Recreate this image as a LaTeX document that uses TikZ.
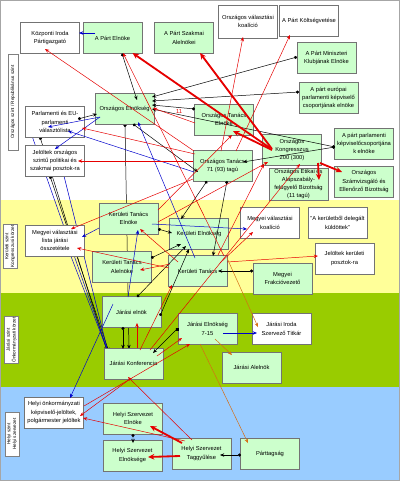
\documentclass[tikz,border=0pt]{standalone}
\usepackage{fontspec}
\setmainfont{Liberation Sans}
\usetikzlibrary{arrows.meta, calc, shadows}
\definecolor{dobozzold}{RGB}{204,255,204}
\definecolor{savsarga}{RGB}{255,255,153}
\definecolor{savzold}{RGB}{153,204,0}
\definecolor{savkek}{RGB}{153,204,255}
\definecolor{nyilpiros}{RGB}{230,0,0}
\definecolor{nyilkek}{RGB}{0,0,204}
\definecolor{nyilbarna}{RGB}{214,110,20}
\pgfdeclarelayer{savok}
\pgfdeclarelayer{hatul}
\pgfsetlayers{savok,hatul,main}

\begin{document}
\begin{tikzpicture}[x=0.025cm, y=-0.025cm,
    doboz/.style={rectangle, draw=black!55, line width=0.3pt, fill=dobozzold, align=center,
      minimum width=1.475cm, minimum height=0.775cm, inner sep=0.5pt,
      font=\fontsize{4.1}{5.9}\selectfont,
      drop shadow={shadow xshift=0.6pt, shadow yshift=-0.6pt, fill=black!60, opacity=0.7}},
    feher/.style={doboz, fill=white},
    szint/.style={rectangle, draw=black!50, fill=white, rotate=90, align=center, inner sep=0.6pt,
      minimum height=0.34cm, font=\fontsize{3.3}{4}\selectfont},
    tag/.style={draw=black, line width=0.35pt, {Circle[length=2.2pt]}-{Stealth[length=3pt, width=2.4pt]}},
    kek/.style={draw=nyilkek, line width=0.35pt, -{Stealth[length=3pt, width=2.4pt]}},
    piros/.style={draw=nyilpiros, line width=0.35pt, -{Stealth[length=3pt, width=2.4pt]}},
    barna/.style={draw=nyilbarna, line width=0.35pt, -{Stealth[length=3pt, width=2.4pt]}},
    valaszt/.style={draw=nyilpiros, line width=1.3pt, -{Stealth[length=4.5pt, width=4pt]}}
  ]
  \useasboundingbox (0,0) rectangle (400,481);

  % szintek (savok)
  \begin{pgfonlayer}{savok}
    \fill[white] (0,0) rectangle (400,200);
    \fill[savsarga] (0,200) rectangle (400,293);
    \fill[savzold] (0,293) rectangle (400,387);
    \fill[savkek] (0,387) rectangle (400,481);
    \draw[black!35, line width=0.5pt] (0.5,0.5) rectangle (399.5,480.5);
  \end{pgfonlayer}

  \node[szint, minimum width=2.4cm, minimum height=0.25cm] (szorsz) at (13,102) {Országos szint / Republikánus szint};
  \node[szint, minimum width=1.05cm] (szker) at (10,246.5) {Kerületi szint\\Kongresszusi körzet};
  \node[szint, minimum width=1.1cm] (szjar) at (11.5,340) {Járási szint\\Önkormányzati körzet};
  \node[szint, minimum width=1.1cm] (szhelyi) at (12,434) {Helyi szint\\Helyi szervezet};

  % orszagos szint
  \node[feher] (kozpiroda) at (50,38) {Központi Iroda\\Pártigazgató};
  \node[doboz] (elnok) at (112.5,38) {A Párt Elnöke};
  \node[doboz] (alelnokok) at (184,38) {A Párt Szakmai\\Alelnökei};
  \node[feher, minimum height=0.825cm] (orszkoal) at (248,21.5) {Országos választási\\koalíció};
  \node[feher] (koltseg) at (309,20.5) {A Párt Költségvetése};
  \node[doboz] (minklub) at (326.5,58) {A Párt Miniszteri\\Klubjának Elnöke};
  \node[doboz] (epcsop) at (328.5,98) {A párt európai\\parlamenti képviselő\\csoportjának elnöke};
  \node[doboz] (orszelnokseg) at (124.5,108.5) {Országos Elnökség};
  \node[doboz] (tanacselnok) at (224,119.5) {Országos Tanács\\Elnöke};
  \node[doboz] (orsztanacs) at (222.5,166) {Országos Tanács\\71 (93) tagú};
  \node[doboz] (kongresszus) at (292,150) {Országos\\Kongresszus\\200 (300)};
  \node[doboz] (parlcsop) at (364,143.5) {A párt parlamenti\\képviselőcsoportjána\\k elnöke};
  \node[doboz] (etikai) at (298.5,184) {Országos Etikai és\\Alapszabály-\\felügyelő Bizottság\\(11 tagú)};
  \node[doboz] (szamvizsg) at (364,181.5) {Országos\\Számvizsgáló és\\Ellenőrző Bizottság};
  \node[feher] (parllista) at (55,122) {Parlamenti és EU-\\parlamenti\\választólista};
  \node[feher] (orszjelolt) at (55,161) {Jelöltek országos\\szintű politikai és\\szakmai posztok-ra};

  % keruleti szint
  \node[doboz] (kertelnok) at (128.5,218.5) {Kerületi Tanács\\Elnöke};
  \node[feher] (megyelista) at (55,240.5) {Megyei választási\\lista járási\\összetétele};
  \node[doboz] (kerelnokseg) at (199,233.5) {Kerületi Elnökség};
  \node[doboz] (keralelnok) at (122,267) {Kerületi Tanács\\Alelnöke};
  \node[doboz] (kertanacs) at (197.5,271) {Kerületi Tanács};
  \node[feher] (megyekoal) at (270,223) {Megyei választási\\koalíció};
  \node[feher] (kuldottek) at (337.5,223) {"A kerületből delegált\\küldöttek"};
  \node[feher] (kerjelolt) at (344.5,258.5) {Jelöltek kerületi\\posztok-ra};
  \node[doboz] (frakcio) at (282.5,278.5) {Megyei\\Frakcióvezető};

  % jarasi szint
  \node[doboz] (jarelnok) at (131.5,312) {Járási elnök};
  \node[doboz] (jarelnokseg) at (207.5,329) {Járási Elnökség\\7-15};
  \node[feher] (jariroda) at (281.5,329) {Járási Iroda\\Szervező Titkár};
  \node[doboz] (jarkonf) at (133.5,363.5) {Járási Konferencia};
  \node[doboz] (jaralelnok) at (251.5,367.5) {Járási Alelnök};

  % helyi szint
  \node[feher] (helyijelolt) at (54,412.5) {Helyi önkormányzati\\képviselő-jelöltek,\\polgármester jelöltek};
  \node[doboz] (helyielnok) at (133,418.5) {Helyi Szervezet\\Elnöke};
  \node[doboz] (helyielnokseg) at (132.5,455.5) {Helyi Szervezet\\Elnöksége};
  \node[doboz] (taggyules) at (201.5,453.5) {Helyi Szervezet\\Taggyűlése};
  \node[doboz] (parttagsag) at (270,453.5) {Párttagság};

  % a dobozok mogott futo vonalak
  \begin{pgfonlayer}{hatul}
    \draw[tag] ($(orszelnokseg)+(0.5,15.5)$) -- ($(jarkonf)+(-4.5,-14.5)$);
    \draw[tag] ($(parllista)+(-15,15)$) -- ($(jarkonf)+(-26.5,-12.5)$);
    \draw[tag] ($(orszjelolt)+(-5,15)$) -- ($(jarkonf)+(-24.5,-11.5)$);
    \draw[kek] ($(jarkonf)+(-25.5,-11.5)$) -- ($(parllista)+(-24,11)$);
    \draw[kek] ($(jarkonf)+(-25.5,-11.5)$) -- ($(orszjelolt)+(8,11)$);
    \draw[kek] ($(jarkonf)+(-25.5,-11.5)$) -- ($(megyelista)+(5,-12.5)$);
  \end{pgfonlayer}

  % fekete: tagsag
  \draw[tag] ($(elnok)+(9.5,15.5)$) -- ($(orszelnokseg)+(12.5,-8.5)$);
  \draw[tag] ($(minklub)+(-29.5,-1)$) -- ($(orszelnokseg)+(27.5,-11.5)$);
  \draw[tag] ($(epcsop)+(-29.5,-6)$) -- ($(orszelnokseg)+(27.5,-7.5)$);
  \draw[tag] ($(tanacselnok)+(-29,-10.5)$) -- ($(orszelnokseg)+(27.5,-3.5)$);
  \draw[tag] ($(parlcsop)+(-29,3.5)$) -- ($(orszelnokseg)+(27.5,0.5)$);
  \draw[tag] ($(parlcsop)+(-29,3.5)$) -- ($(orsztanacs)+(20.5,-4)$);
  \draw[tag] ($(orszelnokseg)+(8.5,15.5)$) -- ($(orsztanacs)+(-24.5,6)$);
  \draw[tag] ($(parllista)+(23,-3)$) -- ($(orszelnokseg)+(-27.5,5.5)$);
  \draw[tag] ($(orsztanacs)+(4.5,15)$) -- ($(kertanacs)+(15.5,-15)$);
  \draw[tag] ($(orsztanacs)+(-15.5,15)$) -- ($(kerelnokseg)+(-18,-14.5)$);
  \draw[tag] ($(kertelnok)+(29.5,10.5)$) -- ($(kerelnokseg)+(-27,-0.5)$);
  \draw[tag] ($(keralelnok)+(29,-9)$) -- ($(kerelnokseg)+(-18,10.5)$);
  \draw[tag] ($(jarelnok)+(5.5,-15)$) -- ($(kerelnokseg)+(-13,12.5)$);
  \draw[tag] ($(jarelnok)+(28.5,4)$) -- ($(kerelnokseg)+(-10,15.5)$);
  \draw[tag] ($(frakcio)+(-29.5,-7.5)$) -- ($(kertanacs)+(20.5,0)$);
  \draw[tag] ($(jarelnok)+(-8.5,15)$) -- ($(jarkonf)+(-10.5,-14.5)$);
  \draw[tag] ($(jarelnokseg)+(-29.5,-1)$) -- ($(jarkonf)+(19.5,-10.5)$);
  \draw[tag] ($(helyielnok)+(0,15.5)$) -- ($(helyielnokseg)+(0.5,-12.5)$);
  \draw[tag] ($(parttagsag)+(-29,1.5)$) -- ($(taggyules)+(18.5,1.5)$);

  % kek
  \draw[kek] ($(elnok)+(-17.5,-5)$) -- ($(kozpiroda)+(29,-5)$);
  \draw[kek] ($(orszelnokseg)+(-24.5,8.5)$) -- ($(parllista)+(-7,5)$);
  \draw[kek] ($(orszelnokseg)+(-24.5,8.5)$) -- ($(orszjelolt)+(0,-12)$);
  \draw[kek] ($(orsztanacs)+(-28.5,6)$) -- ($(parllista)+(13,9)$);
  \draw[kek] ($(kertelnok)+(-29.5,9.5)$) -- ($(megyelista)+(27,-3.5)$);
  \draw[kek] ($(kertelnok)+(23.5,5.5)$) -- ($(megyekoal)+(-23,6)$);
  \draw[kek] ($(kertanacs)+(-2.5,-13)$) -- ($(orszelnokseg)+(13.5,13.5)$);
  \draw[kek] ($(jarelnok)+(-3.5,-15)$) -- ($(kertelnok)+(9.5,11.5)$);
  \draw[kek] ($(jarelnok)+(-18.5,-8)$) -- ($(helyijelolt)+(16,-14.5)$);
  \draw[kek] ($(jarelnokseg)+(15.5,4)$) -- ($(jariroda)+(-24.5,4)$);

  % piros
  \draw[piros] ($(orsztanacs)+(-28.5,-15)$) -- ($(kozpiroda)+(-5,11)$);
  \draw[piros] ($(orsztanacs)+(-1.5,-15)$) -- ($(orszkoal)+(-5,15.5)$);
  \draw[piros] ($(orsztanacs)+(13.5,-15)$) -- ($(koltseg)+(-19,14.5)$);
  \draw[piros] ($(tanacselnok)+(-29,3.5)$) -- node[pos=0.38, above=-0.5pt, font=\fontsize{4.1}{5}\selectfont, text=nyilpiros] (tizenegy) {11} ($(orszelnokseg)+(28.5,-0.5)$);
  \draw[piros] ($(orsztanacs)+(-27.5,-12)$) -- ($(parllista)+(27,6)$);
  \draw[piros] ($(orsztanacs)+(-29.5,-5)$) -- ($(orszjelolt)+(23,0)$);
  \draw[piros] ($(orsztanacs)+(-29.5,13)$) -- ($(megyelista)+(16,-11.5)$);
  \draw[piros] ($(kertanacs)+(26.5,-15)$) -- ($(elnok)+(10.5,15)$);
  \draw[piros] ($(kertelnok)+(29.5,3.5)$) -- ($(kongresszus)+(-24,12)$);
  \draw[piros] ($(kertanacs)+(20.5,-16)$) -- ($(kongresszus)+(-28,14)$);
  \draw[piros] ($(kertelnok)+(29.5,-8.5)$) -- ($(tanacselnok)+(8,15.5)$);
  \draw[piros] ($(kertanacs)+(-19.5,-9)$) -- ($(kertelnok)+(11.5,10.5)$);
  \draw[piros] ($(kertanacs)+(-27.5,-7)$) -- ($(keralelnok)+(18,3)$);
  \draw[piros] ($(kertanacs)+(-28.5,-3)$) -- ($(megyelista)+(22,7.5)$);
  \draw[piros] ($(kertanacs)+(29.5,-9)$) -- ($(kerjelolt)+(-26.5,-2.5)$);
  \draw[piros] ($(kertanacs)+(22.5,-8)$) -- ($(megyekoal)+(-17,9)$);
  \draw[piros] ($(jarkonf)+(3.5,-15.5)$) -- ($(jarelnok)+(5.5,11)$);
  \draw[piros] ($(jarkonf)+(23.5,-7.5)$) -- ($(jarelnokseg)+(-25.5,9)$);
  \draw[piros] ($(jarkonf)+(6.5,-13.5)$) -- ($(kertanacs)+(-25.5,14)$);
  \draw[piros] ($(jarkonf)+(16.5,-13.5)$) -- ($(kongresszus)+(8,14)$);
  \draw[piros] ($(helyijelolt)+(30,-6.5)$) -- ($(jarelnokseg)+(-17.5,15)$);
  \draw[piros] ($(taggyules)+(-9.5,-13.5)$) -- ($(jarkonf)+(-5.5,13.5)$);
  \draw[piros] ($(taggyules)+(-16.5,-12.5)$) -- ($(helyijelolt)+(29,5.5)$);
  \draw[piros] ($(jarkonf)+(-3.5,15.5)$) -- ($(helyijelolt)+(26,3.5)$);

  % barna
  \draw[barna] ($(kertanacs)+(29.5,-13)$) -- ($(jariroda)+(-23.5,-2)$);
  \draw[barna] ($(jarelnokseg)+(-7.5,15)$) -- ($(parttagsag)+(-22,-10.5)$);
  \draw[barna] ($(jarelnokseg)+(7.5,10)$) -- ($(jaralelnok)+(-19.5,-12.5)$);

  % vastag piros: valasztas
  \draw[valaszt] ($(kongresszus)+(-22,-2)$) -- ($(elnok)+(20,15)$);
  \draw[valaszt] ($(kongresszus)+(-20,-1)$) -- ($(alelnokok)+(16,15)$);
  \draw[valaszt] ($(kongresszus)+(-20,0)$) -- ($(tanacselnok)+(9,11.5)$);
  \draw[valaszt] ($(kongresszus)+(26,13)$) -- ($(etikai)+(20.5,-4)$);
  \draw[valaszt] ($(kongresszus)+(28,13)$) -- ($(szamvizsg)+(-22,-9.5)$);
  \draw[valaszt] ($(taggyules)+(-19.5,-10.5)$) -- ($(helyielnok)+(17,7.5)$);
  \draw[valaszt] ($(taggyules)+(-21.5,2.5)$) -- ($(helyielnokseg)+(15.5,1.5)$);
\end{tikzpicture}
\end{document}
